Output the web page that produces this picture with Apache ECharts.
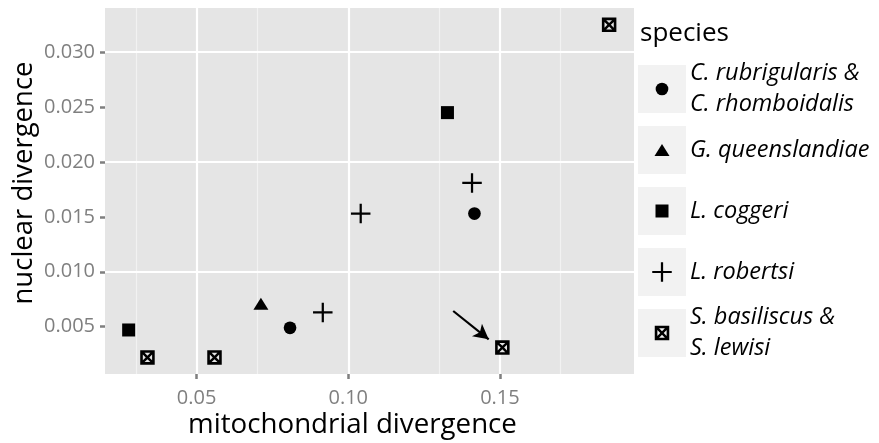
<!DOCTYPE html>
<html>
<head>
<meta charset="utf-8">
<script src="https://cdn.jsdelivr.net/npm/echarts@6/dist/echarts.min.js"></script>
<style>
  html, body { margin: 0; padding: 0; background: #ffffff; }
  #chart { width: 879px; height: 443px; }
</style>
</head>
<body>
<div id="chart"></div>
<script>
// Species names (legend order) and their legend label lines
const species = [
  'C. rubrigularis & C. rhomboidalis',
  'G. queenslandiae',
  'L. coggeri',
  'L. robertsi',
  'S. basiliscus & S. lewisi'
];
const speciesLines = [
  ['C. rubrigularis &', 'C. rhomboidalis'],
  ['G. queenslandiae'],
  ['L. coggeri'],
  ['L. robertsi'],
  ['S. basiliscus &', 'S. lewisi']
];

// [mitochondrial divergence, nuclear divergence] per species
const rubrigularisPts = [[0.0808, 0.0049], [0.1416, 0.0153]];
const queenslandiaePts = [[0.0712, 0.0071]];
const coggeriPts = [[0.0276, 0.0047], [0.1327, 0.0245]];
const robertsiPts = [[0.0916, 0.0063], [0.1041, 0.0153], [0.1408, 0.0181]];
const basiliscusPts = [[0.0338, 0.0022], [0.0559, 0.0022], [0.1508, 0.0031], [0.1860, 0.0325]];

// Annotation arrow pointing at one S. basiliscus pair
const arrowFrom = [0.1346, 0.00643];
const arrowTo = [0.1463, 0.00385];

// Axis ranges, tick values and minor grid values
const xRange = [0.0198, 0.1942];
const yRange = [0.00069, 0.03403];
const xTicks = [0.05, 0.10, 0.15];
const yTicks = [0.005, 0.010, 0.015, 0.020, 0.025, 0.030];
const xMinor = [0.025, 0.075, 0.125, 0.175];
const yMinor = [0.0025, 0.0075, 0.0125, 0.0175, 0.0225, 0.0275, 0.0325];

const FONT = '"Open Sans", "Noto Sans", sans-serif';

// Filled "plus" and "boxed X" glyphs
const plusPath = 'path://M8.85 0 L11.15 0 L11.15 8.85 L20 8.85 L20 11.15 L11.15 11.15 L11.15 20 L8.85 20 L8.85 11.15 L0 11.15 L0 8.85 L8.85 8.85 Z';
const boxXPath = 'path://M0 0 L10 0 L10 10 L0 10 Z ' +
  'M3 1.8 L5 3.8 L7 1.8 Z ' +
  'M8.2 3 L6.2 5 L8.2 7 Z ' +
  'M7 8.2 L5 6.2 L3 8.2 Z ' +
  'M1.8 7 L3.8 5 L1.8 3 Z';

const seriesData = [rubrigularisPts, queenslandiaePts, coggeriPts, robertsiPts, basiliscusPts];
const symbols = ['circle', 'triangle', 'rect', plusPath, boxXPath];
const symbolSizes = [[12.7, 12.7], [15, 12], [13, 13], [19.5, 19.5], [14.5, 14.5]];

// Legend layout: key boxes of 48px, one entry every 61px
const KEY_X = 638, KEY_TOP = 65, KEY_SIZE = 48, KEY_STEP = 61, LABEL_X = 690;

const chart = echarts.init(document.getElementById('chart'), null, { renderer: 'canvas' });

const pointSeries = species.map((name, i) => ({
  name: name,
  type: 'scatter',
  data: seriesData[i],
  symbol: symbols[i],
  symbolSize: symbolSizes[i],
  symbolKeepAspect: false,
  itemStyle: { color: '#000000', opacity: 1 },
  z: 3,
  silent: true
}));

const gridLineSeries = (values, axis, color, width, z) => ({
  name: '__grid_' + axis + width,
  type: 'scatter',
  data: [],
  silent: true,
  markLine: {
    silent: true,
    animation: false,
    symbol: ['none', 'none'],
    label: { show: false },
    z: z,
    lineStyle: { color: color, width: width, type: 'solid' },
    emphasis: { disabled: true },
    data: values.map(v => (axis === 'x' ? { xAxis: v } : { yAxis: v }))
  }
});

// one legend block per species so each key keeps its own symbol size
const legends = species.map((name, i) => {
  const [w, h] = symbolSizes[i];
  const iconLeft = KEY_X + KEY_SIZE / 2 - w / 2;
  return {
    orient: 'vertical',
    left: iconLeft,
    top: KEY_TOP + KEY_SIZE / 2 - 31 + i * KEY_STEP,
    padding: 0,
    itemWidth: w,
    itemHeight: h,
    selectedMode: false,
    z: 5,
    data: [name],
    formatter: n => {
      const lines = speciesLines[species.indexOf(n)];
      return lines.length > 1
        ? lines.map(l => '{two|' + l + '}').join('\n')
        : '{one|' + lines[0] + '}';
    },
    textStyle: {
      fontFamily: FONT, fontStyle: 'italic', fontSize: 23.5, color: '#000000',
      backgroundColor: 'rgba(0,0,0,0)',
      padding: [0, 0, 0, LABEL_X - iconLeft - w - 5],
      rich: {
        two: { fontFamily: FONT, fontStyle: 'italic', fontSize: 23.5, color: '#000000', lineHeight: 31 },
        one: { fontFamily: FONT, fontStyle: 'italic', fontSize: 23.5, color: '#000000', lineHeight: 62 }
      }
    }
  };
});

const option = {
  animation: false,
  backgroundColor: '#ffffff',
  textStyle: { fontFamily: FONT },
  title: {
    text: 'species',
    left: 640,
    top: 21,
    padding: 0,
    textStyle: { fontFamily: FONT, fontSize: 26, fontWeight: 'normal', color: '#000000' }
  },
  grid: {
    left: 105, right: 245, top: 8, bottom: 69,
    outerBoundsMode: 'none',
    containLabel: false,
    show: true, backgroundColor: '#E5E5E5', borderWidth: 0
  },
  xAxis: {
    type: 'value',
    min: xRange[0], max: xRange[1],
    axisLine: { show: false },
    splitLine: { show: false },
    axisTick: { show: true, customValues: xTicks, length: 5, lineStyle: { color: '#7F7F7F', width: 2.5 } },
    axisLabel: {
      customValues: xTicks, margin: 14, color: '#7F7F7F', fontSize: 20, fontFamily: FONT,
      formatter: v => v.toFixed(2)
    },
    name: 'mitochondrial divergence',
    nameLocation: 'middle',
    nameGap: 37,
    nameMoveOverlap: false,
    nameTextStyle: { fontSize: 27.7, color: '#000000', fontFamily: FONT, padding: [0, 34, 0, 0] }
  },
  yAxis: {
    type: 'value',
    min: yRange[0], max: yRange[1],
    axisLine: { show: false },
    splitLine: { show: false },
    axisTick: { show: true, customValues: yTicks, length: 5, lineStyle: { color: '#7F7F7F', width: 2.5 } },
    axisLabel: {
      customValues: yTicks, margin: 10, color: '#7F7F7F', fontSize: 20, fontFamily: FONT,
      formatter: v => v.toFixed(3)
    },
    name: 'nuclear divergence',
    nameLocation: 'middle',
    nameGap: 67,
    nameMoveOverlap: false,
    nameTextStyle: { fontSize: 27.5, color: '#000000', fontFamily: FONT, padding: [0, 0, 0, 16] }
  },
  legend: legends,
  // grey key backgrounds behind the legend entries
  graphic: species.map((s, i) => ({
    type: 'rect',
    left: KEY_X,
    top: KEY_TOP + i * KEY_STEP,
    z: 0,
    silent: true,
    shape: { width: KEY_SIZE, height: KEY_SIZE },
    style: { fill: '#F2F2F2' }
  })),
  series: [
    gridLineSeries(xMinor, 'x', '#F2F2F2', 1.1, 1),
    gridLineSeries(yMinor, 'y', '#F2F2F2', 1.1, 1),
    gridLineSeries(xTicks, 'x', '#FFFFFF', 2.2, 2),
    gridLineSeries(yTicks, 'y', '#FFFFFF', 2.2, 2),
    ...pointSeries,
    {
      name: '__arrow',
      type: 'scatter',
      data: [],
      silent: true,
      markLine: {
        silent: true,
        animation: false,
        symbol: ['none', 'arrow'],
        symbolSize: [12, 15],
        label: { show: false },
        z: 4,
        lineStyle: { color: '#000000', width: 2.2, type: 'solid' },
        emphasis: { disabled: true },
        data: [[{ coord: arrowFrom }, { coord: arrowTo }]]
      }
    }
  ]
};

chart.setOption(option);
</script>
</body>
</html>
